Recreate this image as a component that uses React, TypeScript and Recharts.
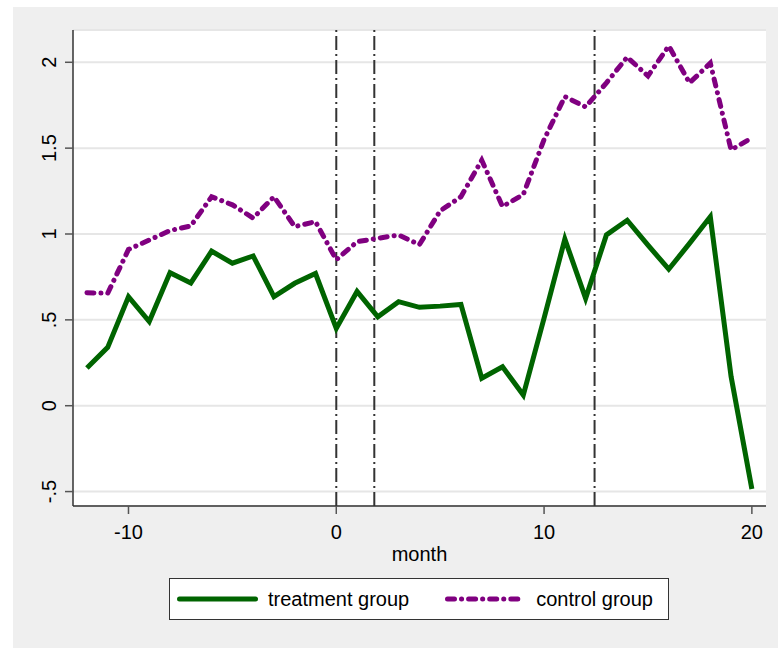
import { LineChart, Line, XAxis, YAxis, CartesianGrid, ReferenceLine, Legend } from "recharts"

const FONT = '"Liberation Sans", Arial, Helvetica, sans-serif'

const months = [
  -12, -11, -10, -9, -8, -7, -6, -5, -4, -3, -2, -1, 0, 1, 2, 3, 4, 5, 6, 7, 8, 9, 10,
  11, 12, 13, 14, 15, 16, 17, 18, 19, 20,
]
const treatment = [
  0.22, 0.34, 0.635, 0.49, 0.775, 0.715, 0.9, 0.83, 0.872, 0.635, 0.713, 0.77, 0.45,
  0.665, 0.518, 0.606, 0.573, 0.58, 0.59, 0.16, 0.227, 0.062, 0.51, 0.97, 0.625, 0.995,
  1.08, 0.935, 0.795, 0.945, 1.1, 0.17, -0.485,
]
const control = [
  0.658, 0.655, 0.91, 0.965, 1.02, 1.047, 1.217, 1.17, 1.093, 1.217, 1.043, 1.072, 0.85,
  0.955, 0.975, 0.994, 0.938, 1.135, 1.217, 1.43, 1.16, 1.23, 1.55, 1.8, 1.74, 1.88,
  2.03, 1.92, 2.095, 1.88, 1.995, 1.49, 1.56,
]
const seriesNames = ["treatment group", "control group"]
const eventMonths = [0, 1.83, 12.43]
const xTicks = [-10, 0, 10, 20]
const yTicks = [-0.5, 0, 0.5, 1, 1.5, 2]

const data = months.map((m, i) => ({ month: m, treatment: treatment[i], control: control[i] }))

function stataNum(v: number): string {
  return String(v).replace(/^(-?)0\./, "$1.")
}

function YTick({ x, y, payload }: any) {
  const tx = x - 7
  return (
    <text
      x={tx}
      y={y}
      transform={`rotate(-90, ${tx}, ${y})`}
      textAnchor="middle"
      fontSize={20}
      fontFamily={FONT}
      fill="#000"
    >
      {stataNum(payload.value)}
    </text>
  )
}

function LegendBox({ payload }: any) {
  const items = [...(payload ?? [])].sort(
    (a: any, b: any) => seriesNames.indexOf(a.value) - seriesNames.indexOf(b.value)
  )
  return (
    <div
      style={{
        boxSizing: "border-box",
        width: 500,
        height: 42,
        background: "#fff",
        border: "1.5px solid #333",
        display: "flex",
        alignItems: "center",
        fontFamily: FONT,
        fontSize: 20,
        color: "#000",
      }}
    >
      {items.map((entry: any, i: number) => (
        <div key={entry.value} style={{ display: "flex", alignItems: "center" }}>
          <svg width={81} height={10} style={{ marginLeft: i === 0 ? 7 : 36 }}>
            <line
              x1={2.5}
              y1={5}
              x2={78.5}
              y2={5}
              stroke={entry.color}
              strokeWidth={5}
              strokeLinecap="round"
              strokeDasharray={entry.payload?.strokeDasharray}
            />
          </svg>
          <span style={{ marginLeft: 10 }}>{entry.value}</span>
        </div>
      ))}
    </div>
  )
}

export default function App() {
  return (
    <div style={{ position: "absolute", left: 0, top: 0, width: 778, height: 648, background: "#fff" }}>
      <div style={{ position: "absolute", left: 13, top: 7, width: 765, height: 641, background: "#efefef" }} />
      <div style={{ position: "absolute", left: 0, top: 0 }}>
        <LineChart
          width={778}
          height={648}
          data={data}
          margin={{ top: 30, right: 12, bottom: 87, left: 13 }}
        >
          <CartesianGrid vertical={false} fill="#fff" stroke="#e6e6e6" strokeWidth={2} />
          <XAxis
            type="number"
            dataKey="month"
            domain={[-12.67, 20.68]}
            ticks={xTicks}
            allowDataOverflow
            height={55}
            axisLine={{ stroke: "#333", strokeWidth: 1.5 }}
            tickLine={{ stroke: "#555", strokeWidth: 1.5 }}
            tickSize={8}
            tickMargin={11}
            tick={{ fill: "#000", fontSize: 20, fontFamily: FONT }}
            label={{ value: "month", position: "insideBottom", offset: 0, fill: "#000", fontSize: 20, fontFamily: FONT }}
          />
          <YAxis
            type="number"
            domain={[-0.584, 2.188]}
            ticks={yTicks}
            allowDataOverflow
            width={60}
            axisLine={{ stroke: "#333", strokeWidth: 1.5 }}
            tickLine={{ stroke: "#555", strokeWidth: 1.5 }}
            tickSize={8}
            tick={<YTick />}
          />
          {eventMonths.map((m) => (
            <ReferenceLine key={m} x={m} stroke="#333" strokeWidth={2} strokeDasharray="14 4 2 4" />
          ))}
          <Line
            type="linear"
            dataKey="treatment"
            name={seriesNames[0]}
            stroke="#006400"
            strokeWidth={5}
            dot={false}
            activeDot={false}
            isAnimationActive={false}
          />
          <Line
            type="linear"
            dataKey="control"
            name={seriesNames[1]}
            stroke="#800080"
            strokeWidth={5}
            strokeLinecap="round"
            strokeDasharray="7 7 0.1 7"
            dot={false}
            activeDot={false}
            isAnimationActive={false}
          />
          <Legend
            layout="horizontal"
            verticalAlign="middle"
            align="center"
            content={<LegendBox />}
            wrapperStyle={{ left: 169, top: 578, width: 500, height: 42 }}
          />
        </LineChart>
      </div>
    </div>
  )
}
